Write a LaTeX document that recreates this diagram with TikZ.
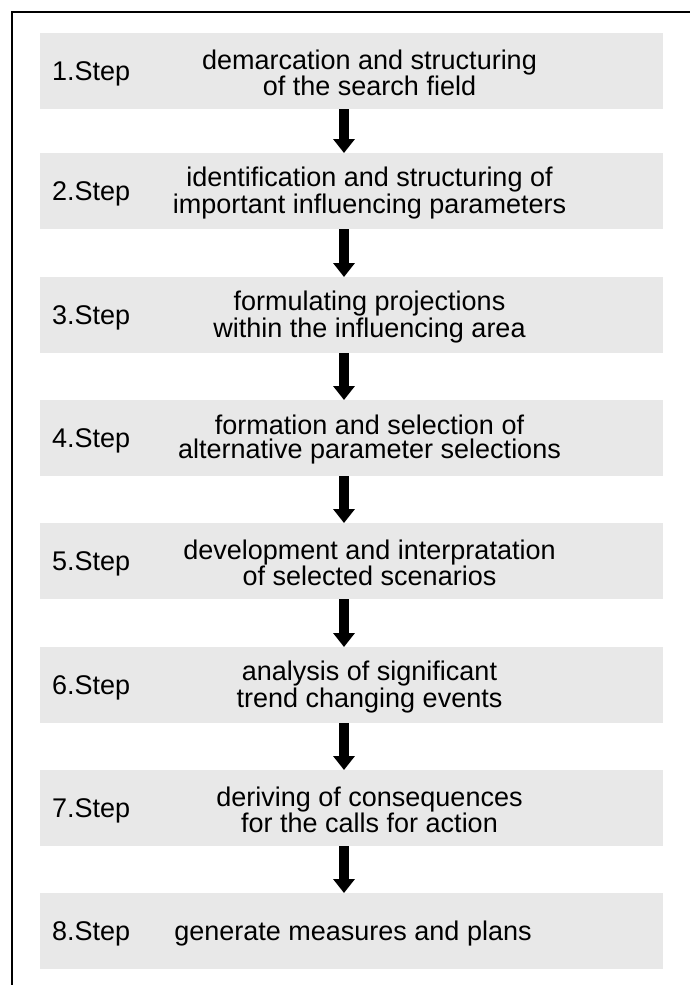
\documentclass[tikz,border=0pt]{standalone}
\usepackage{fontspec}
\setmainfont{Liberation Sans}
\usetikzlibrary{arrows.meta}

\definecolor{boxgray}{HTML}{E8E8E8}

\tikzset{
  stepbox/.style={fill=boxgray, draw=none, minimum width=623pt, minimum height=76pt,
    inner sep=0pt, outer sep=0pt, anchor=north west},
  steplabel/.style={anchor=base west, inner sep=0pt, font=\fontsize{27}{24}\selectfont},
  steptext/.style={anchor=center, inner sep=0pt, align=center,
    font=\fontsize{27}{24}\selectfont},
  flow/.style={line width=10.5pt, -{Triangle[width=21pt,length=14pt]}},
}

\begin{document}
\begin{tikzpicture}[x=1pt, y=-1pt]
  \useasboundingbox (0,0) rectangle (690,985);

  % open frame: top and left edges
  \draw[line width=1.8pt] (690,12) -- (12,12) -- (12,985);

  % the eight step boxes
  \node[stepbox] (b1) at (40,33)  {};
  \node[stepbox] (b2) at (40,153) {};
  \node[stepbox] (b3) at (40,277) {};
  \node[stepbox] (b4) at (40,400) {};
  \node[stepbox] (b5) at (40,523) {};
  \node[stepbox] (b6) at (40,647) {};
  \node[stepbox] (b7) at (40,770) {};
  \node[stepbox] (b8) at (40,893) {};

  % step numbers
  \foreach \i in {1,...,8}
    \node[steplabel] (l\i) at ([shift={(12,9.5)}]b\i.west) {\i.Step};

  % step descriptions
  \node[steptext] (t1) at ([shift={(18,2)}]b1.center) {demarcation and structuring\\of the search field};
  \node[steptext] (t2) at ([shift={(18,2)}]b2.center) {identification and structuring of\\important influencing parameters};
  \node[steptext] (t3) at ([shift={(18,2)}]b3.center) {formulating projections\\within the influencing area};
  \node[steptext] (t4) at ([shift={(18,2)}]b4.center) {formation and selection of\\alternative parameter selections};
  \node[steptext] (t5) at ([shift={(18,2)}]b5.center) {development and interpratation\\of selected scenarios};
  \node[steptext] (t6) at ([shift={(18,2)}]b6.center) {analysis of significant\\trend changing events};
  \node[steptext] (t7) at ([shift={(18,2)}]b7.center) {deriving of consequences\\for the calls for action};
  \node[steptext, anchor=base] (t8) at ([shift={(1.5,9.5)}]b8.center) {generate measures and plans};

  % arrows between consecutive steps
  \foreach \a/\b in {1/2,2/3,3/4,4/5,5/6,6/7,7/8}
    \draw[flow] ([xshift=-7.5pt]b\a.south) -- ([xshift=-7.5pt]b\b.north);
\end{tikzpicture}
\end{document}
